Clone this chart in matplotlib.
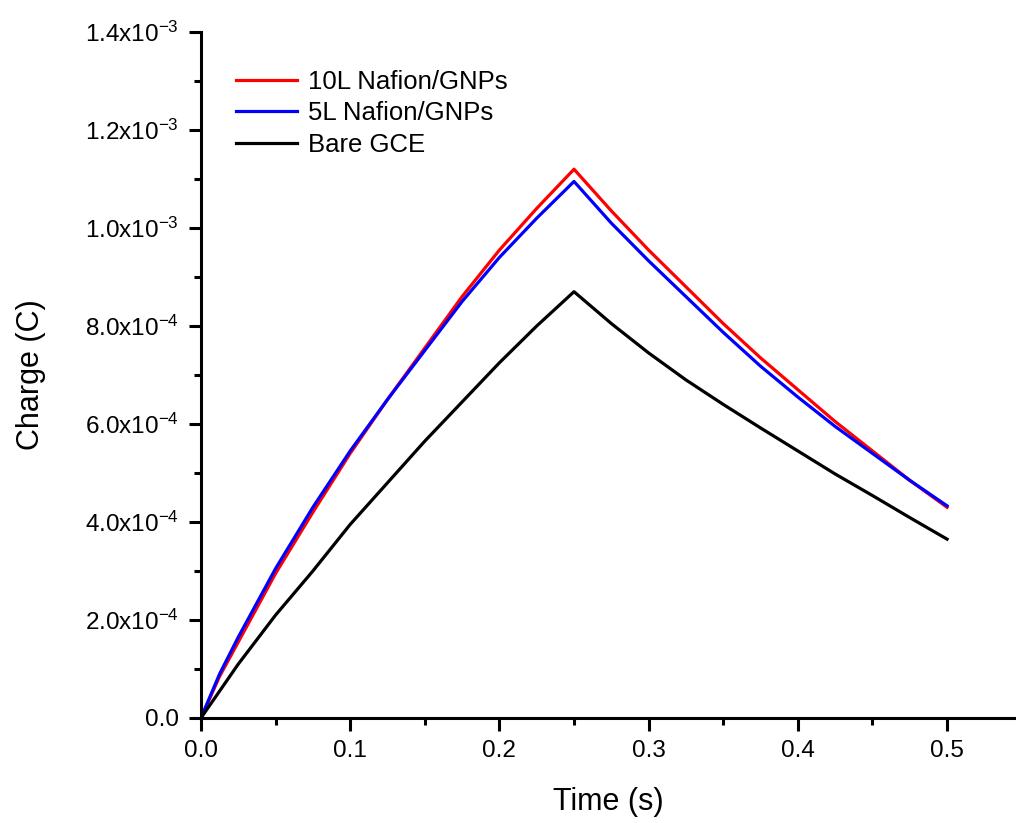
import numpy as np
import matplotlib
matplotlib.use("Agg")
import matplotlib.pyplot as plt
from matplotlib.ticker import MultipleLocator, FuncFormatter

plt.rcParams['font.family'] = ['Liberation Sans', 'DejaVu Sans']
plt.rcParams['mathtext.fontset'] = 'custom'
plt.rcParams['mathtext.rm'] = 'Liberation Sans'
plt.rcParams['mathtext.it'] = 'Liberation Sans'
plt.rcParams['mathtext.default'] = 'regular'

# Chronocoulometry data: potential step at t = 0, reversed at t = 0.25 s
time_s = [0.0, 0.0125, 0.025, 0.05, 0.075, 0.1, 0.125, 0.15, 0.175, 0.2, 0.225, 0.25,
          0.275, 0.3, 0.325, 0.35, 0.375, 0.4, 0.425, 0.45, 0.475, 0.5]

charge_10L = [0.0, 8.5e-5, 1.55e-4, 2.95e-4, 4.2e-4, 5.4e-4, 6.5e-4, 7.55e-4, 8.6e-4, 9.55e-4, 1.04e-3, 1.12e-3,
              1.035e-3, 9.55e-4, 8.8e-4, 8.05e-4, 7.35e-4, 6.7e-4, 6.05e-4, 5.45e-4, 4.85e-4, 4.3e-4]

charge_5L = [0.0, 9.0e-5, 1.65e-4, 3.05e-4, 4.3e-4, 5.45e-4, 6.5e-4, 7.5e-4, 8.5e-4, 9.4e-4, 1.02e-3, 1.095e-3,
             1.01e-3, 9.33e-4, 8.6e-4, 7.87e-4, 7.18e-4, 6.55e-4, 5.95e-4, 5.4e-4, 4.85e-4, 4.33e-4]

charge_bare = [0.0, 5.5e-5, 1.1e-4, 2.1e-4, 3.0e-4, 3.95e-4, 4.8e-4, 5.65e-4, 6.45e-4, 7.25e-4, 8.0e-4, 8.7e-4,
               8.05e-4, 7.45e-4, 6.9e-4, 6.4e-4, 5.92e-4, 5.45e-4, 4.98e-4, 4.54e-4, 4.09e-4, 3.65e-4]

series_labels = ["10L Nafion/GNPs", "5L Nafion/GNPs", "Bare GCE"]
series_colors = ["#ff0000", "#0000ff", "#000000"]

x_ticks = [0.0, 0.1, 0.2, 0.3, 0.4, 0.5]
y_ticks = [0.0, 2e-4, 4e-4, 6e-4, 8e-4, 1.0e-3, 1.2e-3, 1.4e-3]

fig = plt.figure(figsize=(10.16, 8.23), dpi=100)
ax = fig.add_axes([0.1978, 0.1276, 0.8022, 0.8335])

for q, lab, col in zip([charge_10L, charge_5L, charge_bare], series_labels, series_colors):
    ax.plot(time_s, q, color=col, lw=2.3, label=lab)

ax.set_xlim(0, 0.5462)
ax.set_ylim(0, 1.4e-3)
ax.set_xticks(x_ticks)
ax.set_yticks(y_ticks)
ax.xaxis.set_minor_locator(MultipleLocator(0.05))
ax.yaxis.set_minor_locator(MultipleLocator(1e-4))


def sci_fmt(v, pos):
    if abs(v) < 1e-12:
        return "0.0"
    exp = int(np.floor(np.log10(abs(v))))
    mant = v / 10 ** exp
    return r"%.1fx10$^{%d}$" % (mant, exp)


ax.yaxis.set_major_formatter(FuncFormatter(sci_fmt))
ax.xaxis.set_major_formatter(FuncFormatter(lambda v, p: "%.1f" % v))

for s in ["top", "right"]:
    ax.spines[s].set_visible(False)
for s in ["left", "bottom"]:
    ax.spines[s].set_linewidth(2.2)

ax.tick_params(which="major", direction="out", length=9, width=2.2, labelsize=17.5, pad=7)
ax.tick_params(which="minor", direction="out", length=5, width=2.2)

ax.set_xlabel("Time (s)", fontsize=22, labelpad=18)
ax.set_ylabel("Charge (C)", fontsize=22, labelpad=28)

ax.legend(loc="upper left", bbox_to_anchor=(0.03, 0.96), frameon=False, fontsize=18.5,
          handlelength=2.4, handletextpad=0.4, labelspacing=0.3, borderaxespad=0)

fig.savefig("out.png", dpi=100)
